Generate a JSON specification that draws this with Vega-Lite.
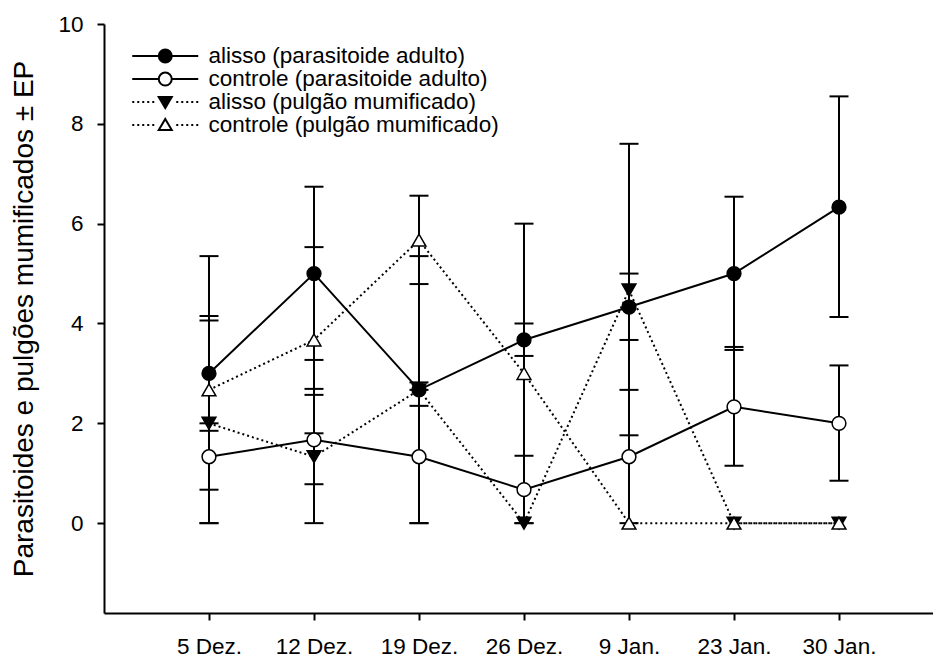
{
  "$schema": "https://vega.github.io/schema/vega-lite/v6.json",
  "autosize": "none",
  "width": 829,
  "height": 589,
  "padding": {"left": 104, "top": 24, "right": 0, "bottom": 44},
  "background": "white",
  "config": {
    "font": "Liberation Sans",
    "view": {"stroke": null},
    "axis": {
      "domainColor": "black", "domainWidth": 2, "tickColor": "black", "tickWidth": 2, "tickSize": 7,
      "labelColor": "black", "labelFontSize": 22.5, "labelFont": "Liberation Sans", "grid": false,
      "titleColor": "black", "titleFont": "Liberation Sans", "titleFontWeight": "normal"
    },
    "axisY": {"titleFontSize": 28, "titlePadding": 19, "labelPadding": 14}
  },
  "data": {
    "values": [
      {"date": "5 Dez.", "series": "alisso (parasitoide adulto)", "mean": 3.0, "lo": 1.85, "hi": 4.15},
      {"date": "12 Dez.", "series": "alisso (parasitoide adulto)", "mean": 5.0, "lo": 3.27, "hi": 6.74},
      {"date": "19 Dez.", "series": "alisso (parasitoide adulto)", "mean": 2.67, "lo": 0, "hi": 5.35},
      {"date": "26 Dez.", "series": "alisso (parasitoide adulto)", "mean": 3.67, "lo": 3.35, "hi": 4.0},
      {"date": "9 Jan.", "series": "alisso (parasitoide adulto)", "mean": 4.33, "lo": 3.67, "hi": 5.0},
      {"date": "23 Jan.", "series": "alisso (parasitoide adulto)", "mean": 5.0, "lo": 3.47, "hi": 6.54},
      {"date": "30 Jan.", "series": "alisso (parasitoide adulto)", "mean": 6.33, "lo": 4.13, "hi": 8.55},
      {"date": "5 Dez.", "series": "controle (parasitoide adulto)", "mean": 1.33, "lo": 0.67, "hi": 2.0},
      {"date": "12 Dez.", "series": "controle (parasitoide adulto)", "mean": 1.67, "lo": 0.78, "hi": 2.57},
      {"date": "19 Dez.", "series": "controle (parasitoide adulto)", "mean": 1.33, "lo": 0, "hi": 2.67},
      {"date": "26 Dez.", "series": "controle (parasitoide adulto)", "mean": 0.67, "lo": 0, "hi": 1.35},
      {"date": "9 Jan.", "series": "controle (parasitoide adulto)", "mean": 1.33, "lo": 0, "hi": 2.67},
      {"date": "23 Jan.", "series": "controle (parasitoide adulto)", "mean": 2.33, "lo": 1.15, "hi": 3.53},
      {"date": "30 Jan.", "series": "controle (parasitoide adulto)", "mean": 2.0, "lo": 0.85, "hi": 3.16},
      {"date": "5 Dez.", "series": "alisso (pulgão mumificado)", "mean": 2.0, "lo": 0, "hi": 4.06},
      {"date": "12 Dez.", "series": "alisso (pulgão mumificado)", "mean": 1.33, "lo": 0, "hi": 2.69},
      {"date": "19 Dez.", "series": "alisso (pulgão mumificado)", "mean": 2.67, "lo": 2.35, "hi": 2.82},
      {"date": "26 Dez.", "series": "alisso (pulgão mumificado)", "mean": 0, "lo": 0, "hi": 0},
      {"date": "9 Jan.", "series": "alisso (pulgão mumificado)", "mean": 4.67, "lo": 1.76, "hi": 7.6},
      {"date": "23 Jan.", "series": "alisso (pulgão mumificado)", "mean": 0, "lo": 0, "hi": 0},
      {"date": "30 Jan.", "series": "alisso (pulgão mumificado)", "mean": 0, "lo": 0, "hi": 0},
      {"date": "5 Dez.", "series": "controle (pulgão mumificado)", "mean": 2.67, "lo": 0, "hi": 5.35},
      {"date": "12 Dez.", "series": "controle (pulgão mumificado)", "mean": 3.67, "lo": 1.8, "hi": 5.53},
      {"date": "19 Dez.", "series": "controle (pulgão mumificado)", "mean": 5.67, "lo": 4.79, "hi": 6.56},
      {"date": "26 Dez.", "series": "controle (pulgão mumificado)", "mean": 3.0, "lo": 0, "hi": 6.0},
      {"date": "9 Jan.", "series": "controle (pulgão mumificado)", "mean": 0, "lo": 0, "hi": 0},
      {"date": "23 Jan.", "series": "controle (pulgão mumificado)", "mean": 0, "lo": 0, "hi": 0},
      {"date": "30 Jan.", "series": "controle (pulgão mumificado)", "mean": 0, "lo": 0, "hi": 0}
    ]
  },
  "encoding": {
    "x": {
      "field": "date", "type": "ordinal",
      "scale": {"type": "point", "domain": ["5 Dez.", "12 Dez.", "19 Dez.", "26 Dez.", "9 Jan.", "23 Jan.", "30 Jan."], "padding": 0.9476, "align": 0.5276},
      "axis": {"title": null, "labelAngle": 0, "labelPadding": 15}
    }
  },
  "resolve": {"scale": {"shape": "independent", "fill": "independent"}, "legend": {"shape": "independent", "fill": "independent"}},
  "layer": [
    {
      "transform": [{"filter": "datum.hi > datum.lo"}],
      "mark": {"type": "rule", "color": "black", "strokeWidth": 2},
      "encoding": {
        "y": {"field": "lo", "type": "quantitative", "scale": {"domain": [-1.8, 10], "nice": false, "zero": false},
              "title": "Parasitoides e pulgões mumificados ± EP", "axis": {"values": [0, 2, 4, 6, 8, 10]}},
        "y2": {"field": "hi"}
      }
    },
    {
      "transform": [{"filter": "datum.hi > datum.lo"}],
      "mark": {"type": "tick", "color": "black", "thickness": 2, "size": 19, "opacity": 1},
      "encoding": {"y": {"field": "lo", "type": "quantitative", "title": "Parasitoides e pulgões mumificados ± EP", "axis": {"values": [0, 2, 4, 6, 8, 10]}}}
    },
    {
      "transform": [{"filter": "datum.hi > datum.lo"}],
      "mark": {"type": "tick", "color": "black", "thickness": 2, "size": 19, "opacity": 1},
      "encoding": {"y": {"field": "hi", "type": "quantitative", "title": "Parasitoides e pulgões mumificados ± EP", "axis": {"values": [0, 2, 4, 6, 8, 10]}}}
    },
    {
      "transform": [{"filter": "indexof(datum.series, 'parasitoide') >= 0"}],
      "mark": {"type": "line", "color": "black", "strokeWidth": 2},
      "encoding": {
        "y": {"field": "mean", "type": "quantitative", "title": "Parasitoides e pulgões mumificados ± EP", "axis": {"values": [0, 2, 4, 6, 8, 10]}},
        "detail": {"field": "series"},
        "order": {"value": null}
      }
    },
    {
      "transform": [{"filter": "indexof(datum.series, 'pulgão') >= 0"}],
      "mark": {"type": "line", "color": "black", "strokeWidth": 2, "strokeDash": [2, 3]},
      "encoding": {
        "y": {"field": "mean", "type": "quantitative", "title": "Parasitoides e pulgões mumificados ± EP", "axis": {"values": [0, 2, 4, 6, 8, 10]}},
        "detail": {"field": "series"},
        "order": {"value": null}
      }
    },
    {
      "mark": {"type": "point", "filled": true, "stroke": "black", "strokeWidth": 1.5, "size": 190, "opacity": 1},
      "encoding": {
        "y": {"field": "mean", "type": "quantitative", "title": "Parasitoides e pulgões mumificados ± EP", "axis": {"values": [0, 2, 4, 6, 8, 10]}},
        "shape": {"field": "series", "type": "nominal",
                  "scale": {"domain": ["alisso (parasitoide adulto)", "controle (parasitoide adulto)", "alisso (pulgão mumificado)", "controle (pulgão mumificado)"], "range": ["circle", "circle", "triangle-down", "triangle-up"]},
                  "legend": null},
        "fill": {"field": "series", "type": "nominal",
                 "scale": {"domain": ["alisso (parasitoide adulto)", "controle (parasitoide adulto)", "alisso (pulgão mumificado)", "controle (pulgão mumificado)"], "range": ["black", "white", "black", "white"]},
                 "legend": null}
      }
    },
    {
      "transform": [{"filter": "datum.mean < -100"}],
      "mark": {"type": "point", "filled": true, "stroke": "black", "strokeWidth": 2, "opacity": 1},
      "encoding": {
        "y": {"field": "mean", "type": "quantitative", "title": "Parasitoides e pulgões mumificados ± EP", "axis": {"values": [0, 2, 4, 6, 8, 10]}},
        "shape": {"field": "series", "type": "nominal",
                  "scale": {"domain": ["alisso (parasitoide adulto)", "controle (parasitoide adulto)", "alisso (pulgão mumificado)", "controle (pulgão mumificado)"],
                            "range": [
                              "M-3.3,0H-0.65M0.65,0H3.3M-0.65,0A0.65,0.65 0 1,1 0.65,0A0.65,0.65 0 1,1 -0.65,0Z",
                              "M-3.3,0H-0.65M0.65,0H3.3M-0.65,0A0.65,0.65 0 1,1 0.65,0A0.65,0.65 0 1,1 -0.65,0Z",
                              "M-3.3,0h0.2M-2.8,0h0.2M-2.3,0h0.2M-1.8,0h0.2M-1.3,0h0.2M1.1,0h0.2M1.6,0h0.2M2.1,0h0.2M2.6,0h0.2M3.1,0h0.2M-0.65,-0.5L0.65,-0.5L0,0.6Z",
                              "M-3.3,0h0.2M-2.8,0h0.2M-2.3,0h0.2M-1.8,0h0.2M-1.3,0h0.2M1.1,0h0.2M1.6,0h0.2M2.1,0h0.2M2.6,0h0.2M3.1,0h0.2M0,-0.6L0.65,0.5L-0.65,0.5Z"
                            ]},
                  "legend": {"orient": "none", "legendX": 50, "legendY": 20.8, "title": null, "symbolSize": 400, "symbolStrokeWidth": 2, "symbolStrokeColor": "black", "symbolOpacity": 1, "labelFontSize": 22.5, "labelFont": "Liberation Sans", "labelColor": "black", "labelOffset": 32, "rowPadding": -1.6, "padding": 0, "labelLimit": 600,
                             "encode": {"symbols": {"update": {"stroke": {"value": "black"}, "strokeWidth": {"value": 2}, "opacity": {"value": 1}}}}}},
        "fill": {"field": "series", "type": "nominal",
                 "scale": {"domain": ["alisso (parasitoide adulto)", "controle (parasitoide adulto)", "alisso (pulgão mumificado)", "controle (pulgão mumificado)"], "range": ["black", "white", "black", "white"]},
                 "legend": {"orient": "none", "legendX": 50, "legendY": 20.8, "title": null, "symbolSize": 400, "symbolStrokeWidth": 2, "symbolStrokeColor": "black", "symbolOpacity": 1, "labelFontSize": 22.5, "labelFont": "Liberation Sans", "labelColor": "black", "labelOffset": 32, "rowPadding": -1.6, "padding": 0, "labelLimit": 600,
                             "encode": {"symbols": {"update": {"stroke": {"value": "black"}, "strokeWidth": {"value": 2}, "opacity": {"value": 1}}}}}}
      }
    }
  ]
}
